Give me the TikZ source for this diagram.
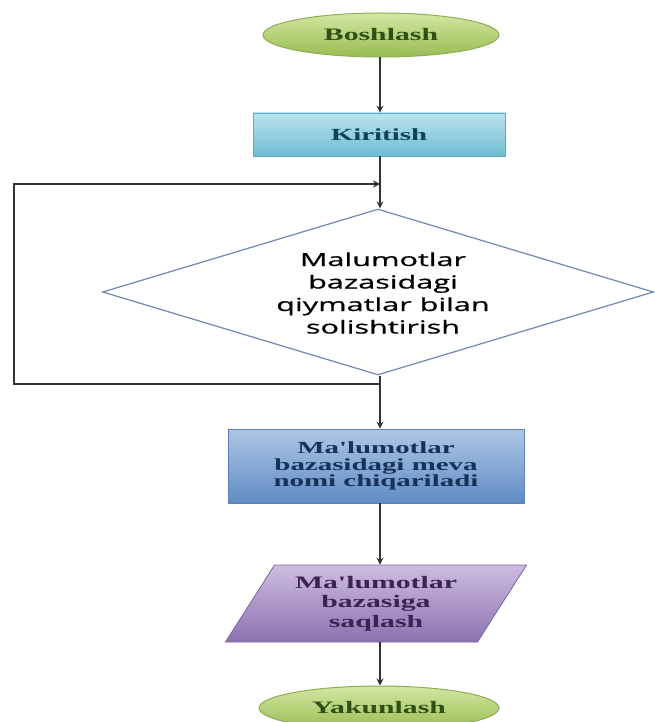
\documentclass[tikz,border=0pt]{standalone}
\usepackage{fontspec}
\usetikzlibrary{shapes.geometric,arrows.meta}
\newfontfamily\boxfont[FakeStretch=1.7]{Liberation Serif}
\newfontfamily\decfont[FakeStretch=1.7,FakeBold=0.8]{Open Sans}
\definecolor{termtop}{HTML}{D3E7A2}
\definecolor{termbot}{HTML}{98BC52}
\definecolor{termdraw}{HTML}{8FAE55}
\definecolor{termtext}{HTML}{2F4F14}
\definecolor{kirtop}{HTML}{BDE3EE}
\definecolor{kirbot}{HTML}{6CBDD3}
\definecolor{kirdraw}{HTML}{5AAFC8}
\definecolor{kirtext}{HTML}{0F4456}
\definecolor{outtop}{HTML}{AFC7E5}
\definecolor{outbot}{HTML}{5F8BC4}
\definecolor{outdraw}{HTML}{5B83B8}
\definecolor{outtext}{HTML}{17325A}
\definecolor{partop}{HTML}{CDBDE0}
\definecolor{parbot}{HTML}{8C71B0}
\definecolor{pardraw}{HTML}{7C62A0}
\definecolor{partext}{HTML}{3A2452}
\definecolor{decdraw}{HTML}{6F87B2}
\definecolor{linecol}{HTML}{333333}
\begin{document}
\begin{tikzpicture}[x=1pt,y=-1pt,
  terminal/.style={ellipse, inner sep=0pt, minimum width=236pt, minimum height=44pt,
    top color=termtop, bottom color=termbot, draw=termdraw, line width=1pt,
    text=termtext, font=\boxfont\bfseries\fontsize{17.5}{16}\selectfont},
  procbox/.style={rectangle, inner sep=0pt, line width=0.8pt, align=center,
    font=\boxfont\bfseries\fontsize{17}{16.5}\selectfont},
  iobox/.style={trapezium, trapezium left angle=54.5, trapezium right angle=125.5,
    trapezium stretches=true, inner sep=0pt, minimum width=302pt, minimum height=77pt,
    top color=partop, bottom color=parbot, draw=pardraw, line width=0.8pt,
    text=partext, align=center, font=\boxfont\bfseries\fontsize{17.5}{19.5}\selectfont},
  decbox/.style={diamond, inner sep=0pt, minimum width=551pt, minimum height=166pt,
    aspect=3.3, draw=decdraw, line width=1.2pt, fill=white},
  dectextstyle/.style={align=center, inner sep=0pt, font=\decfont\fontsize{18}{22.5}\selectfont},
  arr/.style={draw=linecol, line width=1.4pt, -{Stealth[length=7pt,width=7pt]}},
  plain/.style={draw=linecol, line width=1.4pt}]
\useasboundingbox (0,0) rectangle (655,722);
\node[terminal] (start) at (381,35) {Boshlash};
\node[procbox, minimum width=252pt, minimum height=43pt,
  top color=kirtop, bottom color=kirbot, draw=kirdraw, text=kirtext] (kir) at (379,134.5) {Kiritish};
\node[decbox] (dec) at (378,292) {};
\node[dectextstyle] (dectext) at (383,293)
  {Malumotlar\\bazasidagi\\qiymatlar bilan\\solishtirish};
\node[procbox, minimum width=296pt, minimum height=74pt,
  top color=outtop, bottom color=outbot, draw=outdraw, text=outtext] (out) at (376,466)
  {Ma'lumotlar\\bazasidagi meva\\nomi chiqariladi};
\node[iobox] (par) at (376,603.5) {Ma'lumotlar\\bazasiga\\saqlash};
\node[terminal, minimum width=240pt] (end) at (379,708) {Yakunlash};
\coordinate (lt) at (380,184);
\coordinate (lb) at (380,384);
\coordinate (lx) at (14,284);
\draw[arr] (start.south -| lt) -- (kir.north -| lt);
\draw[arr] (kir.south -| lt) -- (dec.north -| lt);
\draw[plain] (dec.south -| lt) -- (lb);
\draw[arr] (lb) -- (out.north -| lt);
\draw[arr] (lb) -| (lx) |- (lt);
\draw[arr] (out.south -| lt) -- (par.north -| lt);
\draw[arr] (par.south -| lt) -- (end.north -| lt);
\end{tikzpicture}
\end{document}
